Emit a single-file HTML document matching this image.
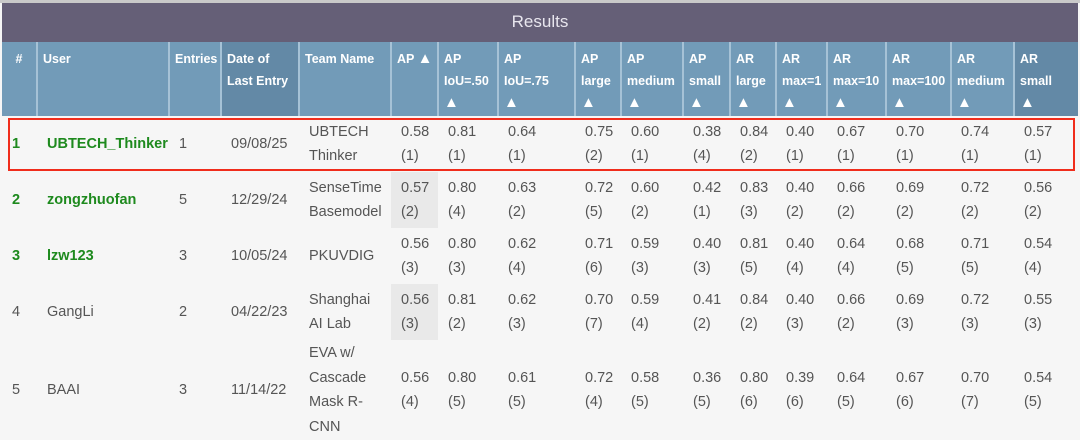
<!DOCTYPE html>
<html><head><meta charset="utf-8"><style>
body{margin:0;width:1080px;height:439px;overflow:hidden;background:#f6f6f6;font-family:"Liberation Sans",sans-serif;}
.top{position:absolute;left:0;top:0;width:1080px;height:3px;background:#c9c9c9}
.title{position:absolute;left:2px;top:3px;width:1076px;height:39px;background:#655f77;color:#e8e6ee;font-size:17px;text-align:center;line-height:38px}
table{position:absolute;left:2px;top:42px;border-collapse:collapse;table-layout:fixed;width:1076px}
th{background:#729bb8;color:#fff;font-size:12.5px;font-weight:bold;text-align:left;vertical-align:top;padding:6px 0 0 5px;line-height:22px;height:68px;border-left:2px solid #a6c2d6;overflow:hidden;white-space:nowrap}
th:first-child{border-left:none;text-align:center;padding-left:0}
th.dk{background:#6389a6}
th b{font-size:15px;font-weight:normal}
td{font-size:14.5px;color:#555;padding:0 0 0 10px;line-height:24.5px;vertical-align:middle;white-space:nowrap;overflow:hidden}
td.g{color:#1e8a1e;font-weight:bold}
td.h{background:#e9e9e9}
.box{position:absolute;left:8px;top:118px;width:1063px;height:49px;border:2px solid #f02d1c}
</style></head><body>
<div class="top"></div>
<div class="title">Results</div>
<table>
<colgroup><col style="width:35px"><col style="width:132px"><col style="width:52px"><col style="width:78px"><col style="width:92px"><col style="width:47px"><col style="width:60px"><col style="width:77px"><col style="width:46px"><col style="width:62px"><col style="width:47px"><col style="width:46px"><col style="width:51px"><col style="width:59px"><col style="width:65px"><col style="width:63px"><col style="width:64px"></colgroup>
<tr><th>#</th><th>User</th><th>Entries</th><th class="dk">Date of<br>Last Entry</th><th>Team Name</th><th>AP <b>▲</b></th><th>AP<br>IoU=.50<br><b>▲</b></th><th>AP<br>IoU=.75<br><b>▲</b></th><th>AP<br>large<br><b>▲</b></th><th>AP<br>medium<br><b>▲</b></th><th>AP<br>small<br><b>▲</b></th><th>AR<br>large<br><b>▲</b></th><th>AR<br>max=1<br><b>▲</b></th><th>AR<br>max=10<br><b>▲</b></th><th>AR<br>max=100<br><b>▲</b></th><th>AR<br>medium<br><b>▲</b></th><th class="dk">AR<br>small<br><b>▲</b></th></tr>
<tr style="height:56px"><td class="g">1</td><td class="g">UBTECH_Thinker</td><td>1</td><td>09/08/25</td><td>UBTECH<br>Thinker</td><td>0.58<br>(1)</td><td>0.81<br>(1)</td><td>0.64<br>(1)</td><td>0.75<br>(2)</td><td>0.60<br>(1)</td><td>0.38<br>(4)</td><td>0.84<br>(2)</td><td>0.40<br>(1)</td><td>0.67<br>(1)</td><td>0.70<br>(1)</td><td>0.74<br>(1)</td><td>0.57<br>(1)</td></tr>
<tr style="height:56px"><td class="g">2</td><td class="g">zongzhuofan</td><td>5</td><td>12/29/24</td><td>SenseTime<br>Basemodel</td><td class="h">0.57<br>(2)</td><td>0.80<br>(4)</td><td>0.63<br>(2)</td><td>0.72<br>(5)</td><td>0.60<br>(2)</td><td>0.42<br>(1)</td><td>0.83<br>(3)</td><td>0.40<br>(2)</td><td>0.66<br>(2)</td><td>0.69<br>(2)</td><td>0.72<br>(2)</td><td>0.56<br>(2)</td></tr>
<tr style="height:56px"><td class="g">3</td><td class="g">lzw123</td><td>3</td><td>10/05/24</td><td>PKUVDIG</td><td>0.56<br>(3)</td><td>0.80<br>(3)</td><td>0.62<br>(4)</td><td>0.71<br>(6)</td><td>0.59<br>(3)</td><td>0.40<br>(3)</td><td>0.81<br>(5)</td><td>0.40<br>(4)</td><td>0.64<br>(4)</td><td>0.68<br>(5)</td><td>0.71<br>(5)</td><td>0.54<br>(4)</td></tr>
<tr style="height:56px"><td>4</td><td>GangLi</td><td>2</td><td>04/22/23</td><td>Shanghai<br>AI Lab</td><td class="h">0.56<br>(3)</td><td>0.81<br>(2)</td><td>0.62<br>(3)</td><td>0.70<br>(7)</td><td>0.59<br>(4)</td><td>0.41<br>(2)</td><td>0.84<br>(2)</td><td>0.40<br>(3)</td><td>0.66<br>(2)</td><td>0.69<br>(3)</td><td>0.72<br>(3)</td><td>0.55<br>(3)</td></tr>
<tr style="height:100px"><td>5</td><td>BAAI</td><td>3</td><td>11/14/22</td><td>EVA w/<br>Cascade<br>Mask R-<br>CNN</td><td>0.56<br>(4)</td><td>0.80<br>(5)</td><td>0.61<br>(5)</td><td>0.72<br>(4)</td><td>0.58<br>(5)</td><td>0.36<br>(5)</td><td>0.80<br>(6)</td><td>0.39<br>(6)</td><td>0.64<br>(5)</td><td>0.67<br>(6)</td><td>0.70<br>(7)</td><td>0.54<br>(5)</td></tr>
</table>
<div class="box"></div>
</body></html>
